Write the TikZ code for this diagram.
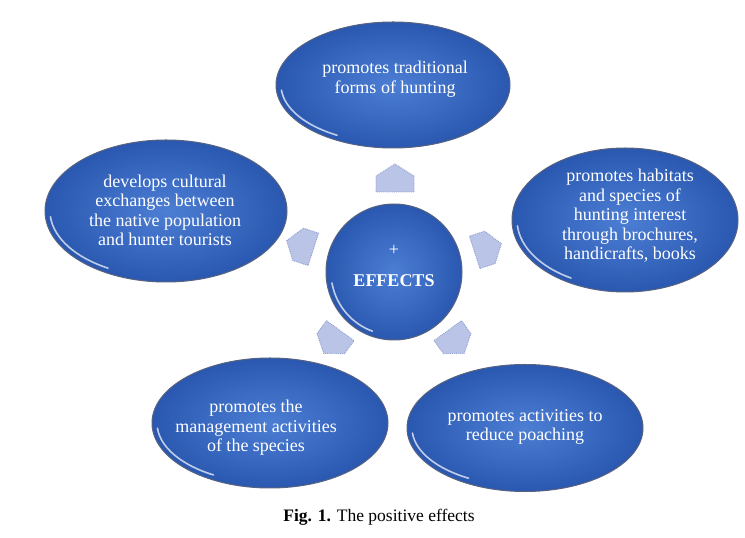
\documentclass[tikz,border=0pt]{standalone}
\usepackage{fontspec}
\setmainfont{Liberation Serif}
\usetikzlibrary{shapes.geometric,calc}

\definecolor{bubbleIn}{RGB}{76,126,212}
\definecolor{bubbleOut}{RGB}{42,88,176}
\definecolor{bubbleRim}{RGB}{86,98,128}
\definecolor{arrowFill}{RGB}{186,196,230}
\definecolor{arrowEdge}{RGB}{140,158,210}

\begin{document}
\begin{tikzpicture}[x=1pt, y=1pt,
  bubble/.style = {ellipse, draw=bubbleRim, line width=1pt, inner color=bubbleIn, outer color=bubbleOut, inner sep=0pt},
  glare/.style = {white, opacity=0.7, line width=1.6pt, line cap=round},
  txt/.style = {text=white, align=center, font=\fontsize{18}{19.5}\selectfont},
  house/.style = {fill=arrowFill, draw=arrowEdge, densely dotted, line width=0.9pt}]

\useasboundingbox[fill=white] (0,0) rectangle (745,538);

%% outer effects
\node[bubble, minimum width=234pt, minimum height=126pt] (hunt) at (393, 453) {};
\node[bubble, minimum width=242pt, minimum height=142pt] (cult) at (166, 327) {};
\node[bubble, minimum width=226pt, minimum height=144pt] (habit) at (625, 318) {};
\node[bubble, minimum width=236pt, minimum height=130pt] (manag) at (270, 115) {};
\node[bubble, minimum width=236pt, minimum height=127pt] (poach) at (525, 110) {};

%% centre
\node[bubble, circle, minimum size=136pt] (effects) at (394, 266) {};

%% glare on the rims
\draw[glare] ($(hunt.center)+(185:112 and 58)$) arc[start angle=185, end angle=240, x radius=112, y radius=58];
\draw[glare] ($(cult.center)+(185:116 and 66)$) arc[start angle=185, end angle=240, x radius=116, y radius=66];
\draw[glare] ($(habit.center)+(185:108 and 67)$) arc[start angle=185, end angle=240, x radius=108, y radius=67];
\draw[glare] ($(manag.center)+(185:113 and 60)$) arc[start angle=185, end angle=240, x radius=113, y radius=60];
\draw[glare] ($(poach.center)+(185:113 and 58)$) arc[start angle=185, end angle=240, x radius=113, y radius=58];
\draw[glare] ($(effects.center)+(190:63)$) arc[start angle=190, end angle=250, radius=63];

%% texts
\node[txt] (t-hunt) at (395, 459) {promotes traditional\\forms of hunting};
\node[txt] (t-cult) at (165, 327.5) {develops cultural\\exchanges between\\the native population\\and hunter tourists};
\node[txt] (t-habit) at (630, 322) {promotes habitats\\and species of\\hunting interest\\through brochures,\\handicrafts, books};
\node[txt] (t-manag) at (256, 110) {promotes the\\management activities\\of the species};
\node[txt] (t-poach) at (525, 111) {promotes activities to\\reduce poaching};
\node[txt] (t-effects) at (394, 272) {+\\[12pt]\textbf{EFFECTS}};

%% arrows
\draw[house, shift={(395,360)}, rotate=90] (-14,-19) -- (2,-19) -- (14,0) -- (2,19) -- (-14,19) -- cycle;
\draw[house, shift={(300,293)}, rotate=162] (-14,-17) -- (2,-17) -- (14,0) -- (2,17) -- (-14,17) -- cycle;
\draw[house, shift={(488,290)}, rotate=18] (-14,-17) -- (2,-17) -- (14,0) -- (2,17) -- (-14,17) -- cycle;
\draw[house, shift={(332,196)}, rotate=234] (-14,-17) -- (2,-17) -- (14,0) -- (2,17) -- (-14,17) -- cycle;
\draw[house, shift={(456,196)}, rotate=306] (-14,-17) -- (2,-17) -- (14,0) -- (2,17) -- (-14,17) -- cycle;

%% caption
\node[font=\fontsize{17.5}{20}\selectfont] (caption) at (379, 21) {\textbf{Fig. 1.} The positive effects};

\end{tikzpicture}
\end{document}
